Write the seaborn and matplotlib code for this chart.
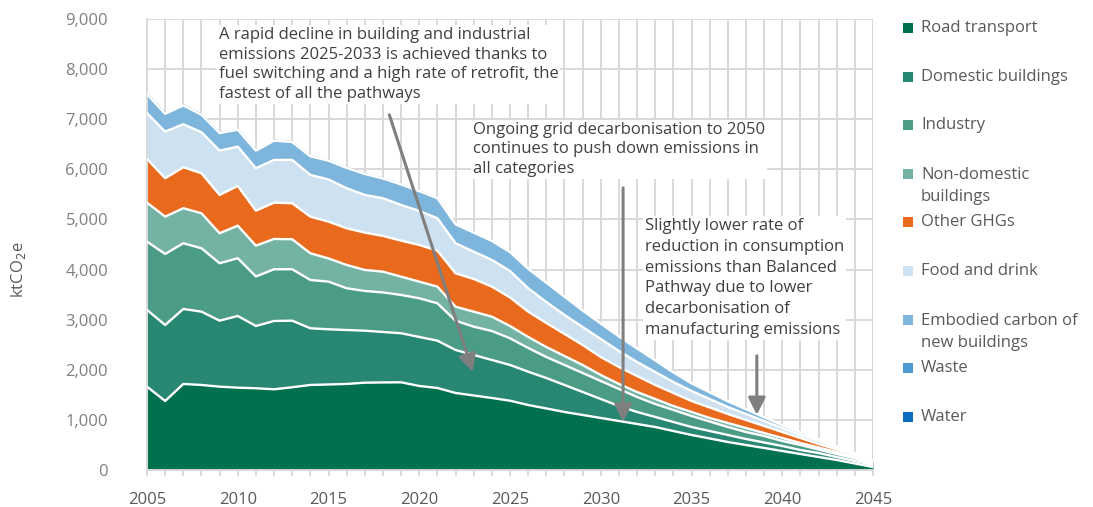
import numpy as np
import pandas as pd
import matplotlib
matplotlib.use("Agg")
import matplotlib.pyplot as plt
from matplotlib.patches import Rectangle
import seaborn as sns

years = list(range(2005, 2046))

road_transport = [1663, 1377, 1717, 1697, 1663, 1643, 1631, 1611, 1651, 1697,
                  1707, 1717, 1743, 1747, 1750, 1677, 1637, 1537, 1487, 1437,
                  1383, 1297, 1228, 1158, 1098, 1038, 978, 918, 858, 778,
                  699, 629, 559, 499, 439, 379, 319, 259, 200, 130, 60]
domestic_buildings = [1531, 1517, 1497, 1463, 1317, 1431, 1243, 1363, 1329, 1131,
                      1101, 1077, 1037, 1007, 979, 978, 944, 858, 808, 759,
                      713, 665, 608, 539, 459, 379, 299, 240, 200, 180,
                      159, 149, 140, 120, 110, 100, 80, 80, 59, 50, 40]
industry = [1363, 1417, 1311, 1265, 1146, 1152, 988, 1032, 1026, 964,
            951, 833, 793, 789, 764, 772, 746, 585, 565, 578,
            533, 473, 419, 399, 379, 359, 340, 299, 259, 240,
            220, 190, 159, 139, 130, 100, 100, 70, 60, 50, 30]
non_domestic_buildings = [778, 745, 699, 699, 599, 650, 615, 605, 599, 533,
                          463, 465, 419, 415, 365, 332, 332, 279, 300, 286,
                          245, 220, 200, 179, 160, 120, 100, 100, 100, 79,
                          80, 70, 80, 80, 60, 60, 40, 40, 40, 29, 20]
other_ghgs = [873, 766, 818, 798, 764, 793, 699, 724, 718, 731,
              734, 732, 745, 713, 719, 732, 718, 667, 652, 599,
              569, 505, 479, 440, 399, 359, 339, 319, 280, 260,
              219, 210, 180, 160, 139, 119, 100, 70, 50, 40, 20]
food_and_drink = [912, 931, 858, 819, 884, 784, 846, 853, 865, 832,
                  842, 799, 752, 752, 712, 679, 647, 599, 545, 533,
                  529, 467, 419, 379, 359, 360, 319, 280, 259, 219,
                  200, 169, 139, 120, 100, 80, 60, 60, 40, 20, 10]
embodied_carbon = [380, 356, 375, 349, 351, 338, 351, 385, 358, 372,
                   374, 405, 419, 394, 409, 395, 401, 378, 380, 380,
                   376, 389, 384, 366, 328, 308, 290, 269, 232, 192,
                   153, 133, 115, 95, 76, 56, 50, 37, 28, 19, 19]
waste = [25, 25, 24, 24, 23, 23, 22, 22, 21, 21,
         20, 20, 20, 19, 19, 18, 18, 16, 15, 14,
         13, 12, 11, 10, 9, 8, 7, 7, 6, 6,
         5, 5, 4, 4, 3, 3, 2, 2, 1, 1, 1]
water = [6, 6, 6, 6, 6, 6, 6, 6, 6, 6,
         6, 6, 6, 6, 6, 6, 6, 5, 5, 5,
         4, 4, 4, 4, 3, 3, 3, 3, 2, 2,
         2, 2, 1, 1, 1, 1, 1, 1, 1, 0, 0]

series_names = ["Road transport", "Domestic buildings", "Industry",
                "Non-domestic\nbuildings", "Other GHGs", "Food and drink",
                "Embodied carbon of\nnew buildings", "Waste", "Water"]
series_colors = ["#00704f", "#288772", "#4b9c86", "#74b3a3", "#e9691d",
                 "#cde1f1", "#7eb5dd", "#4c99d3", "#0b6dbf"]
series_values = [road_transport, domestic_buildings, industry,
                 non_domestic_buildings, other_ghgs, food_and_drink,
                 embodied_carbon, waste, water]

y_ticks = [0, 1000, 2000, 3000, 4000, 5000, 6000, 7000, 8000, 9000]
x_ticks = [2005, 2010, 2015, 2020, 2025, 2030, 2035, 2040, 2045]

notes = [
    "A rapid decline in building and industrial\nemissions 2025-2033 is achieved thanks to\n"
    "fuel switching and a high rate of retrofit, the\nfastest of all the pathways",
    "Ongoing grid decarbonisation to 2050\ncontinues to push down emissions in\nall categories",
    "Slightly lower rate of\nreduction in consumption\nemissions than Balanced\n"
    "Pathway due to lower\ndecarbonisation of\nmanufacturing emissions",
]

sns.set_theme(style="white")
plt.rcParams["font.family"] = ["Open Sans", "DejaVu Sans"]

W, H = 1093, 507
fig = plt.figure(figsize=(W / 100, H / 100), dpi=100)
ax = fig.add_axes([147 / W, 37 / H, 726 / W, 451 / H])

x = np.array(years)
stack = np.cumsum(np.array(series_values, dtype=float), axis=0)
lower = np.zeros_like(x, dtype=float)
for vals, color in zip(stack, series_colors):
    ax.fill_between(x, lower, vals, color=color, linewidth=0, zorder=2)
    lower = vals

# white separators between the stacked bands
edges = pd.DataFrame({
    "year": np.tile(x, 7),
    "value": stack[:7].ravel(),
    "band": np.repeat(np.arange(7), len(x)),
})
sns.lineplot(data=edges, x="year", y="value", units="band", estimator=None,
             color="white", linewidth=1.7, ax=ax, zorder=3, legend=False)

ax.set_xlim(2005, 2045)
ax.set_ylim(0, 9000)
ax.set_xticks(x_ticks)
ax.set_xticks(years, minor=True)
ax.set_yticks(y_ticks)
ax.set_yticklabels([f"{v:,}" for v in y_ticks])
ax.set_xlabel("")
ax.set_ylabel("")
ax.grid(True, which="both", axis="x", color="#d9d9d9", linewidth=1.4, zorder=0)
ax.grid(True, which="major", axis="y", color="#d9d9d9", linewidth=1.4, zorder=0)
ax.set_axisbelow(True)
for side in ["top", "right"]:
    ax.spines[side].set_visible(False)
ax.spines["left"].set_color("#d9d9d9")
ax.spines["left"].set_linewidth(1.4)
ax.spines["bottom"].set_color("#d9d9d9")
ax.spines["bottom"].set_linewidth(1.4)
ax.tick_params(axis="x", which="both", length=4, width=1.4, color="#d9d9d9",
               bottom=True, labelsize=12, labelcolor="#595959", pad=12)
ax.tick_params(axis="y", length=0, labelsize=12, labelcolor="#808080", pad=28)

fig.text(18 / W, 1 - 270 / H, r"ktCO$_2$e", rotation=90, ha="center", va="center",
         fontsize=12, color="#595959")

# explanatory notes with arrows
note_kw = dict(fontsize=12, color="#404040", va="top", ha="left", linespacing=1.3,
               zorder=6, bbox=dict(facecolor="white", edgecolor="none", pad=1.5))
ax.text(2008.95, 8840, notes[0], **note_kw)
ax.text(2022.98, 6950, notes[1], **note_kw)
ax.text(2032.45, 5030, notes[2], **dict(note_kw, linespacing=1.4))

arrow_kw = dict(arrowstyle="-|>", color="#7f7f7f", lw=2.2, mutation_scale=26,
                shrinkA=0, shrinkB=0)
ax.annotate("", xy=(2022.95, 1960), xytext=(2018.35, 7090), arrowprops=arrow_kw, zorder=7)
ax.annotate("", xy=(2031.23, 965), xytext=(2031.23, 5630), arrowprops=arrow_kw, zorder=7)
ax.annotate("", xy=(2038.6, 1100), xytext=(2038.6, 2280), arrowprops=arrow_kw, zorder=7)

# legend in a single column on the right
for i, (name, color) in enumerate(zip(series_names, series_colors)):
    yc = 28 + 48.6 * i
    fig.patches.append(Rectangle((903 / W, 1 - (yc + 5) / H), 10 / W, 10 / H,
                                 transform=fig.transFigure, facecolor=color,
                                 edgecolor="none"))
    n_lines = name.count("\n") + 1
    fig.text(921 / W, 1 - (yc + 12.3 * (n_lines - 1)) / H, name, ha="left",
             va="center", fontsize=12, color="#595959", linespacing=1.5)

fig.savefig("out.png", dpi=100)
